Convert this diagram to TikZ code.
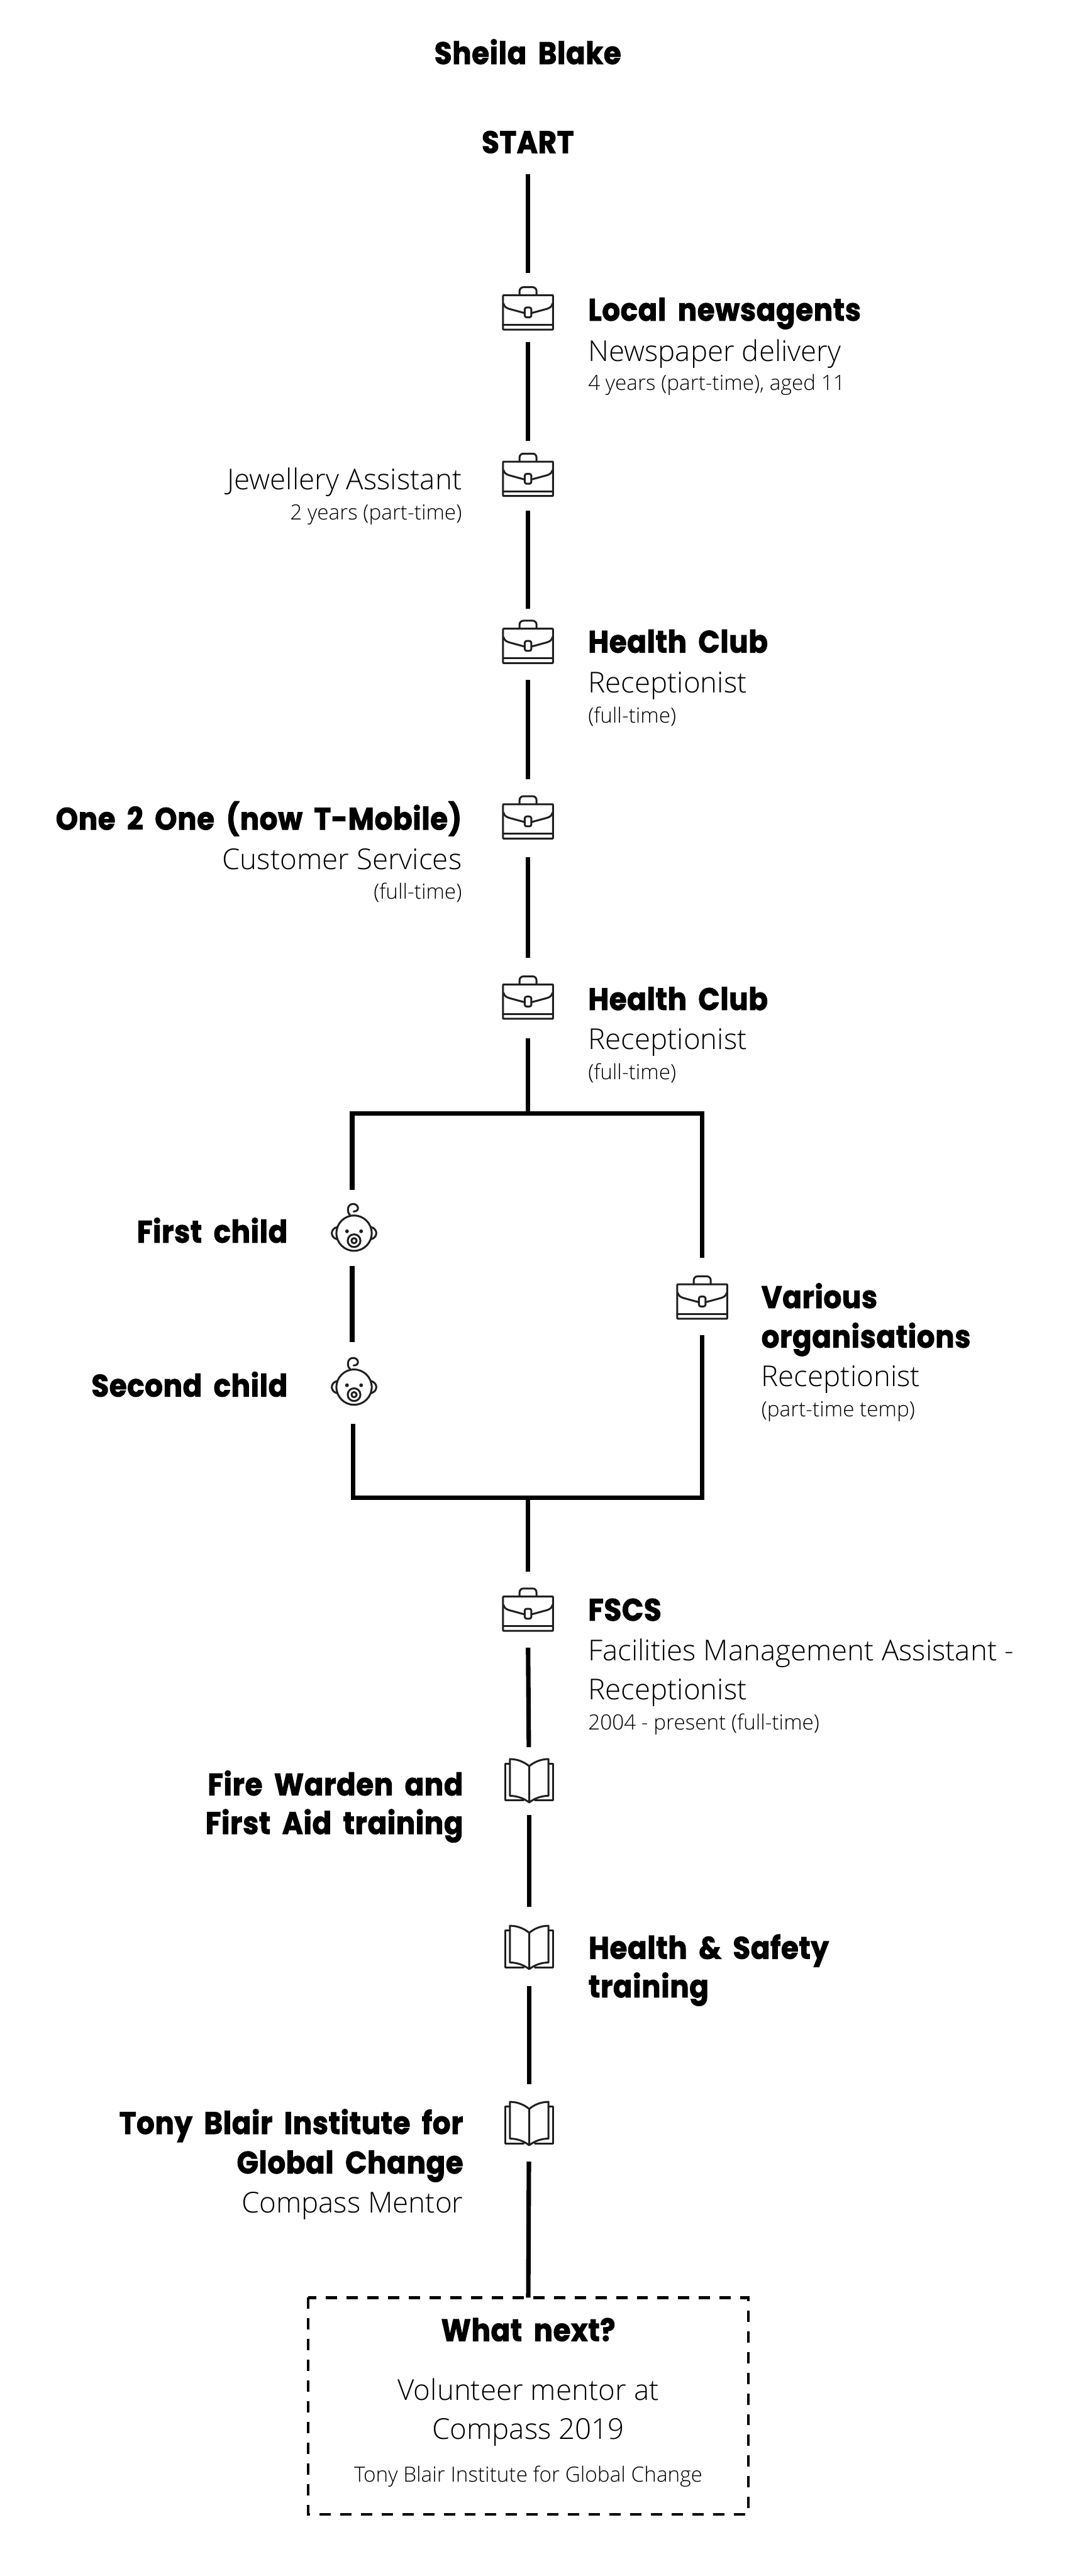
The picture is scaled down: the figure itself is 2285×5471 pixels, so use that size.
\documentclass[tikz,border=0pt]{standalone}
\usepackage{fontspec}
\newfontfamily\hv[FakeStretch=0.91,LetterSpace=1.5,WordSpace=1.8,BoldFeatures={FakeBold=2}]{Poppins}
\newfontfamily\lt{Open Sans Light}
\tikzset{
 ln/.style={line width=9.5pt,black},
 ic/.style={line width=4pt,line join=round,line cap=round,color=black!88},
 gap/.style={inner sep=0pt,outer sep=0pt,minimum width=120pt},
 head/.style={inner sep=0pt,font=\hv\bfseries\fontsize{66}{80}\selectfont},
 sub/.style={inner sep=0pt,font=\lt\fontsize{61}{80}\selectfont},
 tiny/.style={inner sep=0pt,font=\lt\fontsize{44.5}{60}\selectfont},
 R/.style={anchor=base west},
 L/.style={anchor=base east},
 C/.style={anchor=base},
 brief/.pic={
  \draw[ic,rounded corners=1pt] (-53,-28) rectangle (53,45);
  \draw[ic] (-18,-28) -- (-18,-37) arc[start angle=180,end angle=90,radius=8pt] -- (10,-45) arc[start angle=90,end angle=0,radius=8pt] -- (18,-28);
  \draw[ic] (-53,35) -- (53,35);
  \draw[ic] (-52,-10) .. controls (-50,-3) and (-46,-1) .. (-40,1) -- (-7,10);
  \draw[ic] (52,-10) .. controls (50,-3) and (46,-1) .. (40,1) -- (7,10);
  \draw[ic,rounded corners=4pt] (-7,-2) rectangle (7,19);
 },
 baby/.pic={
  \draw[ic] (0,0) circle[radius=37.5pt];
  \draw[ic] (-36,-13) .. controls (-51,-9) and (-51,9) .. (-36,13);
  \draw[ic] (36,-13) .. controls (51,-9) and (51,9) .. (36,13);
  \fill[black!88] (-15,-4) circle[radius=4pt] (15,-4) circle[radius=4pt];
  \draw[ic] (0,16) circle[radius=13.5pt] (0,16) circle[radius=5.5pt];
  \draw[ic] (-8,-38) .. controls (-16,-44) and (-15,-62) .. (-2,-62) .. controls (10,-62) and (13,-46) .. (-1,-46);
 },
 book/.pic={
  \draw[ic] (-41,-35) -- (-51,-35) -- (-51,43) -- (-12,43);
  \draw[ic] (41,-35) -- (51,-35) -- (51,43) -- (12,43);
  \draw[ic] (0,-30) .. controls (-12,-40) and (-26,-45) .. (-41,-45) -- (-41,33) .. controls (-26,33) and (-12,38) .. (0,47) .. controls (12,38) and (26,33) .. (41,33) -- (41,-45) .. controls (26,-45) and (12,-40) .. (0,-30) -- (0,47);
 },
}
\begin{document}
\begin{tikzpicture}[x=1pt,y=-1pt]
\useasboundingbox (0,0) rectangle (2285,5471);
% icon holders (their borders make the gaps in the connectors)
\coordinate (s0) at (1121,370);
\node[gap,minimum height=146pt] (i1) at (1121,653) {};
\node[gap,minimum height=149pt] (i2) at (1121,1010.5) {};
\node[gap,minimum height=151pt] (i3) at (1121,1368.5) {};
\node[gap,minimum height=166pt] (i4) at (1121,1737.8) {};
\node[gap,minimum height=171pt] (i5) at (1121,2119.5) {};
\node[gap,minimum height=161.6pt] (i6) at (1121,3418.5) {};
\node[gap,minimum height=165pt] (b7) at (1491,2753.5) {};
\node[gap,minimum height=162pt] (b1) at (748,2608) {};
\node[gap,minimum height=174.3pt] (b2) at (748,2936.9) {};
\node[gap,minimum height=144pt] (k1) at (1123.7,3782.8) {};
\node[gap,minimum height=168pt] (k2) at (1123.7,4134) {};
\node[gap,minimum height=164pt] (k3) at (1123.7,4509) {};
\foreach \y in {655,1008.4,1363.3,1736,2118.7,3418.7}{\pic at (1121.5,\y) {brief};}
\pic at (1491.5,2755.7) {brief};
\pic at (752,2619) {baby};
\pic at (752,2946) {baby};
\pic at (1124,3781) {book};
\pic at (1124,4135) {book};
\pic at (1124,4509) {book};
% frame corners
\coordinate (tc) at (1121,2365);
\coordinate (bc) at (1121,3181.3);
\coordinate (tl) at (748,2365);
\coordinate (tr) at (1491,2365);
\coordinate (q) at (750,3024);
\coordinate (bl) at (750,3181.3);
\coordinate (br) at (1491,3181.3);
% what next box
\node[inner sep=0pt,minimum width=934pt,minimum height=460pt] (nx) at (1122,5110) {};
% connectors
\draw[ln] (s0) -- (i1);
\draw[ln] (i1) -- (i2);
\draw[ln] (i2) -- (i3);
\draw[ln] (i3) -- (i4);
\draw[ln] (i4) -- (i5);
\draw[ln] (i5) -- (tc);
\draw[ln] (b1) -- (tl) -- (tr) -- (b7);
\draw[ln] (b1) -- (b2);
\draw[ln] (q) -- (bl) -- (br) -- (b7);
\draw[ln] (bc) -- (i6);
\draw[ln] (i6) -- (k1);
\draw[ln] (k1) -- (k2);
\draw[ln] (k2) -- (k3);
\draw[ln] (k3) -- (nx.north);
\draw[line width=6pt,dash pattern=on 24pt off 20pt] (nx.north west) -- (nx.south west) -- (nx.south east) -- (nx.north east) -- cycle;
% texts
\node[head,C] (t0) at (1121,136) {Sheila Blake};
\node[head,C] (t00) at (1121,325) {START};
\node[head,R] (a1) at (1249,681) {Local newsagents};
\node[sub,R] (a2) at (1249,768) {Newspaper delivery};
\node[tiny,R] (a3) at (1249,829) {4 years (part-time), aged 11};
\node[sub,L] (c2) at (981,1040) {Jewellery Assistant};
\node[tiny,L] (c3) at (981,1104) {2 years (part-time)};
\node[head,R] (d1) at (1249,1386) {Health Club};
\node[sub,R] (d2) at (1249,1471) {Receptionist};
\node[tiny,R] (d3) at (1249,1535) {(full-time)};
\node[head,L] (e1) at (981,1762) {One 2 One (now T-Mobile)};
\node[sub,L] (e2) at (981,1846) {Customer Services};
\node[tiny,L] (e3) at (981,1910) {(full-time)};
\node[head,R] (f1) at (1249,2145) {Health Club};
\node[sub,R] (f2) at (1249,2229) {Receptionist};
\node[tiny,R] (f3) at (1249,2293) {(full-time)};
\node[head,L] (g1) at (611,2639) {First child};
\node[head,L] (g2) at (611,2966) {Second child};
\node[head,R] (h1) at (1617,2778) {Various};
\node[head,R] (h2) at (1617,2862) {organisations};
\node[sub,R] (h3) at (1617,2945) {Receptionist};
\node[tiny,R] (h4) at (1617,3009) {(part-time temp)};
\node[head,R] (j1) at (1249,3442) {FSCS};
\node[sub,R] (j2) at (1249,3527) {Facilities Management Assistant -};
\node[sub,R] (j3) at (1249,3610) {Receptionist};
\node[tiny,R] (j4) at (1249,3674) {2004 - present (full-time)};
\node[head,L] (m1) at (984,3813) {Fire Warden and};
\node[head,L] (m2) at (984,3895) {First Aid training};
\node[head,R] (n1) at (1250,4160) {Health \& Safety};
\node[head,R] (n2) at (1250,4242) {training};
\node[head,L] (o1) at (984,4532) {Tony Blair Institute for};
\node[head,L] (o2) at (984,4616) {Global Change};
\node[sub,L] (o3) at (984,4700) {Compass Mentor};
\node[head,C] (p1) at (1122,4972) {What next?};
\node[sub,C] (p2) at (1122,5098) {Volunteer mentor at};
\node[sub,C] (p3) at (1122,5181) {Compass 2019};
\node[tiny,C] (p4) at (1122,5271) {Tony Blair Institute for Global Change};
\end{tikzpicture}
\end{document}
